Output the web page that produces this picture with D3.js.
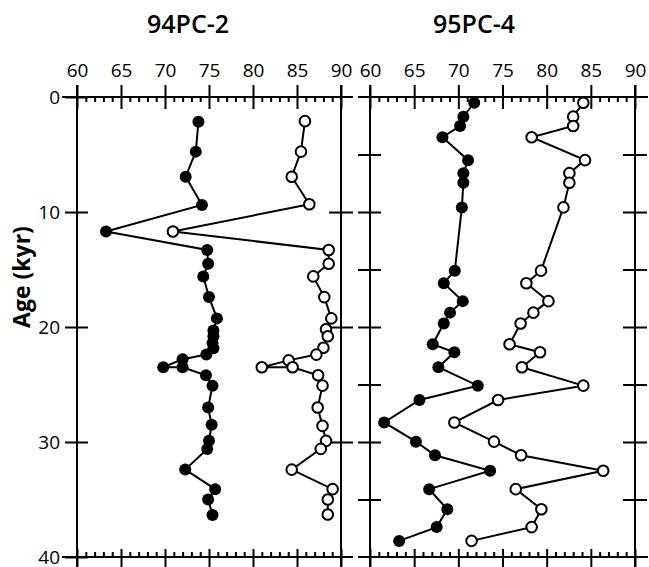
<!DOCTYPE html>
<html>
<head>
<meta charset="utf-8">
<script src="https://cdn.jsdelivr.net/npm/d3@7"></script>
<style>
  body { margin: 0; background: #fff; }
  svg { display: block; }
  .tick text { font-family: "Open Sans", "DejaVu Sans", sans-serif; font-size: 19px; fill: #000; }
  .title { font-family: "Open Sans", "DejaVu Sans", sans-serif; font-weight: 600; font-size: 25px; }
</style>
</head>
<body>
<div id="chart"></div>
<script>
// core 94PC-2
const ageA_filled = [2.15, 4.75, 6.93, 9.39, 11.7, 13.3, 14.5, 15.6, 17.4, 19.25, 20.3, 20.8, 21.4, 21.85, 22.4, 22.8, 23.5, 23.5, 24.2, 25.1, 27.0, 28.5, 29.9, 30.6, 32.4, 34.1, 35.0, 36.35];
const valA_filled = [73.8, 73.5, 72.35, 74.2, 63.3, 74.8, 74.9, 74.35, 75.0, 75.9, 75.5, 75.5, 75.4, 75.5, 74.7, 72.0, 69.8, 72.0, 74.65, 75.4, 74.9, 75.3, 75.0, 74.8, 72.3, 75.7, 74.9, 75.4];
const ageA_open = [2.1, 4.75, 6.93, 9.33, 11.7, 13.3, 14.5, 15.6, 17.4, 19.25, 20.2, 20.8, 21.8, 22.4, 22.9, 23.5, 23.5, 24.2, 25.1, 27.0, 28.6, 29.9, 30.6, 32.4, 34.1, 35.0, 36.3];
const valA_open = [85.9, 85.45, 84.4, 86.4, 70.9, 88.6, 88.6, 86.85, 88.1, 88.9, 88.3, 88.5, 88.0, 87.2, 84.05, 81.0, 84.5, 87.4, 87.9, 87.35, 87.9, 88.3, 87.7, 84.4, 89.05, 88.5, 88.5];

// core 95PC-4
const ageB = [0.5, 1.71, 2.52, 3.5, 5.49, 6.62, 7.45, 9.6, 15.1, 16.2, 17.75, 18.75, 19.7, 21.5, 22.2, 23.5, 25.1, 26.35, 28.3, 29.97, 31.15, 32.5, 34.1, 35.85, 37.4, 38.6];
const valB_filled = [71.8, 70.57, 70.2, 68.2, 71.1, 70.57, 70.57, 70.4, 69.6, 68.35, 70.5, 69.06, 68.35, 67.1, 69.55, 67.74, 72.2, 65.6, 61.6, 65.2, 67.36, 73.6, 66.7, 68.75, 67.55, 63.3];
const valB_open = [84.15, 83.0, 83.0, 78.3, 84.34, 82.57, 82.57, 81.9, 79.36, 77.7, 80.2, 78.5, 77.05, 75.8, 79.25, 77.2, 84.15, 74.5, 69.55, 74.04, 77.1, 86.4, 76.5, 79.4, 78.3, 71.5];

const titles = ["94PC-2", "95PC-4"];
const xMajor = [60, 65, 70, 75, 80, 85, 90];
const xMinor = d3.range(61, 90).filter(d => d % 5 !== 0);
const yMajor = [0, 10, 20, 30, 40];

const width = 649, height = 567;

const svg = d3.select("#chart")
  .append("svg")
  .attr("width", width)
  .attr("height", height);

const yScale = d3.scaleLinear().domain([0, 40]).range([97, 557]);
const xA = d3.scaleLinear().domain([60, 90]).range([77, 341]);
const xB = d3.scaleLinear().domain([60, 90]).range([370, 635]);

function styleAxis(g) {
  g.select(".domain").remove();
  g.selectAll(".tick line").attr("stroke", "#000").attr("stroke-width", 2);
}

function drawFrame(x, opts) {
  const [x0, x1] = x.range();
  const [y0, y1] = yScale.range();

  // top axis: labels + upward part of major ticks
  svg.append("g")
    .attr("transform", `translate(0,${y0})`)
    .call(d3.axisTop(x).tickValues(xMajor).tickSize(12).tickPadding(8).tickSizeOuter(0))
    .call(styleAxis);
  svg.append("g")
    .attr("transform", `translate(0,${y0})`)
    .call(d3.axisTop(x).tickValues(xMajor).tickSize(-12).tickFormat("").tickSizeOuter(0))
    .call(styleAxis);
  svg.append("g")
    .attr("transform", `translate(0,${y0})`)
    .call(d3.axisTop(x).tickValues(xMinor).tickSize(-5).tickFormat("").tickSizeOuter(0))
    .call(styleAxis);

  // bottom axis
  svg.append("g")
    .attr("transform", `translate(0,${y1})`)
    .call(d3.axisBottom(x).tickValues(xMajor).tickSize(12).tickFormat("").tickSizeOuter(0))
    .call(styleAxis);
  svg.append("g")
    .attr("transform", `translate(0,${y1})`)
    .call(d3.axisBottom(x).tickValues(xMajor).tickSize(-8).tickFormat("").tickSizeOuter(0))
    .call(styleAxis);
  svg.append("g")
    .attr("transform", `translate(0,${y1})`)
    .call(d3.axisBottom(x).tickValues(xMinor).tickSize(-5).tickFormat("").tickSizeOuter(0))
    .call(styleAxis);

  // horizontal axis lines
  [y0, y1].forEach(yy => {
    svg.append("line")
      .attr("x1", x0 - opts.extL).attr("x2", x1 + opts.extR)
      .attr("y1", yy).attr("y2", yy)
      .attr("stroke", "#000").attr("stroke-width", 2);
  });

  // vertical axis lines
  [x0, x1].forEach(xx => {
    svg.append("line")
      .attr("x1", xx).attr("x2", xx)
      .attr("y1", y0 - 12).attr("y2", y1 + 12)
      .attr("stroke", "#000").attr("stroke-width", 2);
  });

  // left side ticks
  svg.append("g")
    .attr("transform", `translate(${x0},0)`)
    .call(d3.axisLeft(yScale).tickValues(opts.leftTicks).tickSize(12).tickPadding(5)
      .tickFormat(opts.leftLabels ? d3.format("d") : "").tickSizeOuter(0))
    .call(styleAxis);
  svg.append("g")
    .attr("transform", `translate(${x0},0)`)
    .call(d3.axisRight(yScale).tickValues(opts.leftTicks).tickSize(11).tickFormat("").tickSizeOuter(0))
    .call(styleAxis);

  // right side ticks
  svg.append("g")
    .attr("transform", `translate(${x1},0)`)
    .call(d3.axisRight(yScale).tickValues(opts.rightTicks).tickSize(12).tickFormat("").tickSizeOuter(0))
    .call(styleAxis);
  svg.append("g")
    .attr("transform", `translate(${x1},0)`)
    .call(d3.axisLeft(yScale).tickValues(opts.rightTicks).tickSize(12).tickFormat("").tickSizeOuter(0))
    .call(styleAxis);
}

drawFrame(xA, { extL: 15, extR: 12, leftTicks: yMajor, leftLabels: true, rightTicks: [10, 20, 30] });
drawFrame(xB, { extL: 12, extR: 13, leftTicks: [5, 10, 15, 20, 25, 30, 35], leftLabels: false, rightTicks: [5, 10, 15, 20, 25, 30, 35] });

// titles
svg.append("text").attr("class", "title")
  .attr("x", 188).attr("y", 33).attr("text-anchor", "middle").text(titles[0]);
svg.append("text").attr("class", "title")
  .attr("x", 474).attr("y", 33).attr("text-anchor", "middle").text(titles[1]);

// y axis label
svg.append("text")
  .attr("transform", `translate(30,${277}) rotate(-90)`)
  .attr("text-anchor", "middle")
  .style("font-family", "'Open Sans', 'DejaVu Sans', sans-serif")
  .style("font-weight", 700)
  .style("font-size", "23px")
  .text("Age (kyr)");

function drawSeries(x, ages, vals, filled) {
  const data = ages.map((a, i) => ({ age: a, value: vals[i] }));
  const line = d3.line()
    .x(d => x(d.value))
    .y(d => yScale(d.age))
    .curve(d3.curveLinear);

  svg.append("path")
    .datum(data)
    .attr("d", line)
    .attr("fill", "none")
    .attr("stroke", "#000")
    .attr("stroke-width", 2);

  svg.append("g")
    .selectAll("circle")
    .data(data)
    .enter()
    .append("circle")
    .attr("cx", d => x(d.value))
    .attr("cy", d => yScale(d.age))
    .attr("r", filled ? 6 : 5.3)
    .attr("fill", filled ? "#000" : "#fff")
    .attr("stroke", "#000")
    .attr("stroke-width", filled ? 0 : 2);
}

drawSeries(xA, ageA_filled, valA_filled, true);
drawSeries(xA, ageA_open, valA_open, false);
drawSeries(xB, ageB, valB_filled, true);
drawSeries(xB, ageB, valB_open, false);
</script>
</body>
</html>
